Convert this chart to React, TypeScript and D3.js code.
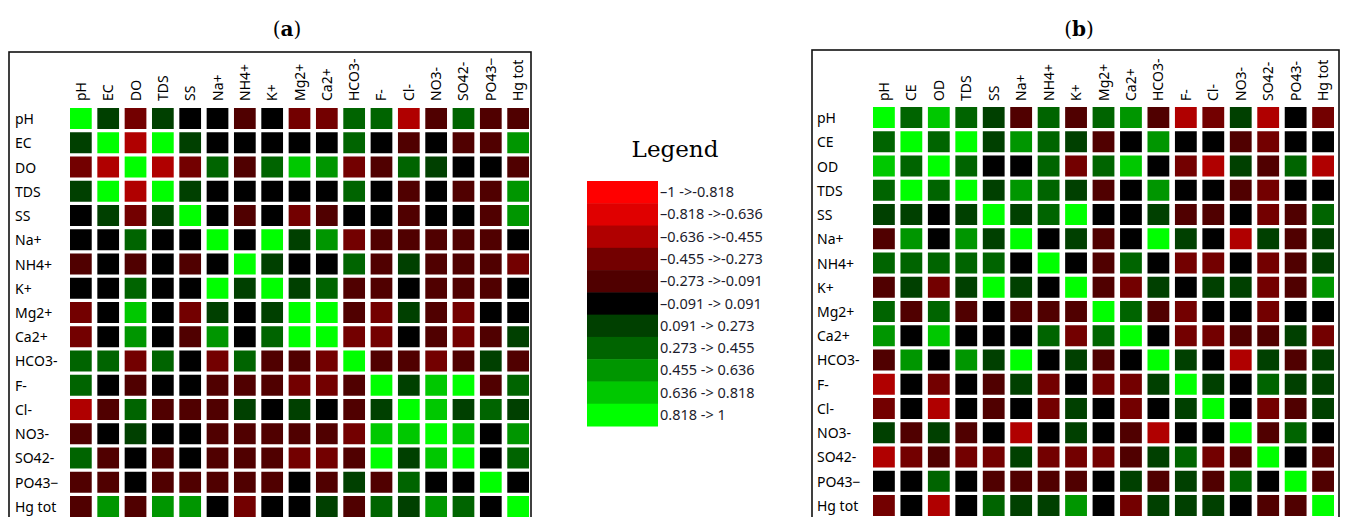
import React from "react";
import * as d3 from "d3";

// Variables, panel (a)
const labelsA = ["pH", "EC", "DO", "TDS", "SS", "Na+", "NH4+", "K+", "Mg2+", "Ca2+", "HCO3-", "F-", "Cl-", "NO3-", "SO42-", "PO43−", "Hg tot"];
const colLabelsA = ["pH", "EC", "DO", "TDS", "SS", "Na+", "NH4+", "K+", "Mg2+", "Ca2+", "HCO3-", "F-", "Cl-", "NO3-", "SO42-", "PO43−", "Hg tot"];

// Variables, panel (b)
const labelsB = ["pH", "CE", "OD", "TDS", "SS", "Na+", "NH4+", "K+", "Mg2+", "Ca2+", "HCO3-", "F-", "Cl-", "NO3-", "SO42-", "PO43−", "Hg tot"];
const colLabelsB = ["pH", "CE", "OD", "TDS", "SS", "Na+", "NH4+", "K+", "Mg2+", "Ca2+", "HCO3-", "F-", "Cl-", "NO3-", "SO42-", "PO43-", "Hg tot"];

// Correlation coefficients, panel (a)
const corrA: number[][] = [
  [1, 0.2, -0.38, 0.2, 0.04, -0.02, -0.15, 0.03, -0.35, -0.33, 0.37, 0.34, -0.52, -0.17, 0.36, -0.2, -0.19],
  [0.2, 1, -0.55, 0.98, 0.15, 0.05, -0.04, 0.06, 0.02, -0.01, 0.38, 0.05, -0.18, 0.03, -0.16, -0.21, 0.53],
  [-0.38, -0.55, 1, -0.56, -0.34, 0.39, -0.2, 0.36, 0.7, 0.58, -0.37, -0.22, 0.33, 0.17, 0.06, -0.02, -0.19],
  [0.2, 0.98, -0.56, 1, 0.16, 0.04, -0.03, 0.05, 0.01, -0.02, 0.37, 0.04, -0.17, 0.02, -0.15, -0.2, 0.52],
  [0.04, 0.15, -0.34, 0.16, 1, 0.03, -0.22, 0.07, -0.31, -0.25, 0.05, -0.06, -0.14, 0.08, -0.04, -0.19, 0.5],
  [-0.02, 0.05, 0.39, 0.04, 0.03, 1, 0.06, 0.95, 0.22, 0.56, -0.36, -0.2, -0.18, -0.21, -0.17, -0.15, 0.02],
  [-0.15, -0.04, -0.2, -0.03, -0.22, 0.06, 1, 0.19, 0.05, -0.07, 0.35, -0.24, 0.2, -0.19, -0.23, -0.16, -0.4],
  [0.03, 0.06, 0.36, 0.05, 0.07, 0.95, 0.19, 1, 0.17, 0.4, -0.2, -0.18, 0.03, -0.22, -0.19, -0.25, 0.01],
  [-0.35, 0.02, 0.7, 0.01, -0.31, 0.22, 0.05, 0.17, 1, 0.92, -0.19, -0.33, 0.21, -0.24, -0.3, 0.04, -0.06],
  [-0.33, -0.01, 0.58, -0.02, -0.25, 0.56, -0.07, 0.4, 0.92, 1, -0.34, -0.36, -0.05, -0.2, -0.32, -0.21, 0.14],
  [0.37, 0.38, -0.37, 0.37, 0.05, -0.36, 0.35, -0.2, -0.19, -0.34, 1, -0.22, -0.2, -0.35, -0.18, 0.19, -0.17],
  [0.34, 0.05, -0.22, 0.04, -0.06, -0.2, -0.24, -0.18, -0.33, -0.36, -0.22, 1, 0.16, 0.75, 0.93, -0.2, 0.38],
  [-0.52, -0.18, 0.33, -0.17, -0.14, -0.18, 0.2, 0.03, 0.21, -0.05, -0.2, 0.16, 1, 0.7, 0.2, 0.4, 0.18],
  [-0.17, 0.03, 0.17, 0.02, 0.08, -0.21, -0.19, -0.22, -0.24, -0.2, -0.35, 0.75, 0.7, 1, 0.72, 0.05, 0.5],
  [0.36, -0.16, 0.06, -0.15, -0.04, -0.17, -0.23, -0.19, -0.3, -0.32, -0.18, 0.93, 0.2, 0.72, 1, -0.03, 0.4],
  [-0.2, -0.21, -0.02, -0.2, -0.19, -0.15, -0.16, -0.25, 0.04, -0.21, 0.19, -0.2, 0.4, 0.05, -0.03, 1, 0.02],
  [-0.19, 0.53, -0.19, 0.52, 0.5, 0.02, -0.4, 0.01, -0.06, 0.14, -0.17, 0.38, 0.18, 0.5, 0.4, 0.02, 1],
];

// Correlation coefficients, panel (b)
const corrB: number[][] = [
  [1, 0.4, 0.74, 0.41, 0.22, -0.21, 0.38, -0.19, 0.35, 0.5, -0.18, -0.5, -0.37, 0.2, -0.53, -0.05, -0.34],
  [0.4, 1, 0.39, 0.99, 0.24, 0.52, 0.36, 0.2, -0.14, 0.06, 0.52, -0.03, 0.01, -0.16, -0.3, 0.04, -0.05],
  [0.74, 0.39, 1, 0.4, -0.02, 0.05, 0.33, -0.38, 0.37, 0.7, 0.04, -0.36, -0.5, 0.19, -0.23, 0.3, -0.52],
  [0.41, 0.99, 0.4, 1, 0.25, 0.53, 0.37, 0.21, -0.15, 0.05, 0.53, -0.02, 0.02, -0.17, -0.31, 0.03, -0.04],
  [0.22, 0.24, -0.02, 0.25, 1, 0.18, 0.34, 0.9, 0.07, -0.04, 0.19, -0.2, -0.23, 0.01, -0.33, -0.17, 0.38],
  [-0.21, 0.52, 0.05, 0.53, 0.18, 1, 0.03, 0.2, -0.22, 0.08, 0.97, 0.22, -0.06, -0.5, 0.16, -0.24, 0.2],
  [0.38, 0.36, 0.33, 0.37, 0.34, 0.03, 1, -0.07, -0.22, 0.35, 0.02, -0.39, -0.36, 0.05, -0.35, -0.2, 0.15],
  [-0.19, 0.2, -0.38, 0.21, 0.9, 0.2, -0.07, 1, -0.18, -0.37, 0.21, 0.04, 0.17, 0.23, -0.33, -0.22, 0.5],
  [0.35, -0.14, 0.37, -0.15, 0.07, -0.22, -0.22, -0.18, 1, 0.36, -0.2, -0.35, 0.06, -0.03, -0.38, 0.02, 0.08],
  [0.5, 0.06, 0.7, 0.05, -0.04, 0.08, 0.35, -0.37, 0.36, 1, 0.01, -0.34, -0.39, -0.21, -0.24, 0.16, -0.36],
  [-0.18, 0.52, 0.04, 0.53, 0.19, 0.97, 0.02, 0.21, -0.2, 0.01, 1, 0.23, -0.03, -0.52, 0.17, -0.2, 0.21],
  [-0.5, -0.03, -0.36, -0.02, -0.2, 0.22, -0.39, 0.04, -0.35, -0.34, 0.23, 1, 0.2, -0.06, 0.3, 0.15, 0.18],
  [-0.37, 0.01, -0.5, 0.02, -0.23, -0.06, -0.36, 0.17, 0.06, -0.39, -0.03, 0.2, 1, 0.07, -0.32, -0.19, 0.19],
  [0.2, -0.16, 0.19, -0.17, 0.01, -0.5, 0.05, 0.23, -0.03, -0.21, -0.52, -0.06, 0.07, 1, -0.18, 0.33, -0.02],
  [-0.53, -0.3, -0.23, -0.31, -0.33, 0.16, -0.35, -0.33, -0.38, -0.24, 0.17, 0.3, -0.32, -0.18, 1, 0.03, -0.25],
  [-0.05, 0.04, 0.3, 0.03, -0.17, -0.24, -0.2, -0.22, 0.02, 0.16, -0.2, 0.15, -0.19, 0.33, 0.03, 1, -0.21],
  [-0.34, -0.05, -0.52, -0.04, 0.38, 0.2, 0.15, 0.5, 0.08, -0.36, 0.21, 0.18, 0.19, -0.02, -0.25, -0.21, 1],
];

// Colour classes
const thresholds = [-0.818, -0.636, -0.455, -0.273, -0.091, 0.091, 0.273, 0.455, 0.636, 0.818];
const classColors = ["#ff0000", "#e00000", "#b00000", "#730000", "#500000", "#000000", "#004000", "#006400", "#009600", "#00c800", "#00ff00"];
const legendLabels = [
  "–1 ->-0.818",
  "–0.818 ->-0.636",
  "–0.636 ->-0.455",
  "–0.455 ->-0.273",
  "–0.273 ->-0.091",
  "–0.091 -> 0.091",
  "0.091 -> 0.273",
  "0.273 -> 0.455",
  "0.455 -> 0.636",
  "0.636 -> 0.818",
  "0.818 -> 1",
];

const color = d3.scaleThreshold<number, string>().domain(thresholds).range(classColors);

const SANS = "'Noto Sans', 'Open Sans', sans-serif";
const SERIF = "'DejaVu Serif', 'Liberation Serif', serif";

type PanelProps = {
  title: string;
  titleX: number;
  box: [number, number, number, number];
  rows: string[];
  cols: string[];
  values: number[][];
  xRange: [number, number];
  yRange: [number, number];
  labelX: number;
};

function Panel({ title, titleX, box, rows, cols, values, xRange, yRange, labelX }: PanelProps) {
  const idx = d3.range(cols.length).map(String);
  const x = d3.scaleBand().domain(idx).range(xRange).paddingInner(0.205).paddingOuter(0);
  const y = d3.scaleBand().domain(idx).range(yRange).paddingInner(0.134).paddingOuter(0);
  return (
    <g>
      <text x={titleX} y={36} textAnchor="middle" fontFamily={SERIF} fontSize={20} fill="#000">
        (<tspan fontWeight="bold">{title}</tspan>)
      </text>
      <rect x={box[0]} y={box[1]} width={box[2]} height={box[3]} fill="none" stroke="#111" strokeWidth={1.6} />
      {cols.map((c, j) => {
        const cx = (x(String(j)) as number) + x.bandwidth() / 2 + 5;
        return (
          <text key={"c" + j} transform={`translate(${cx},101) rotate(-90)`} fontFamily={SANS} fontSize={14} fill="#000">
            {c}
          </text>
        );
      })}
      {rows.map((r, i) => (
        <text key={"r" + i} x={labelX} y={(y(String(i)) as number) + y.bandwidth() / 2 + 5.5} fontFamily={SANS} fontSize={14} fill="#000">
          {r}
        </text>
      ))}
      {values.map((row, i) =>
        row.map((v, j) => (
          <rect
            key={i + "-" + j}
            x={x(String(j))}
            y={y(String(i))}
            width={x.bandwidth()}
            height={y.bandwidth()}
            fill={color(v)}
          />
        ))
      )}
    </g>
  );
}

function Legend() {
  const bins = d3.range(classColors.length).map(String);
  const y = d3.scaleBand().domain(bins).range([181, 426]);
  return (
    <g>
      <text x={675} y={157} textAnchor="middle" fontFamily={SERIF} fontSize={23} fill="#000">
        Legend
      </text>
      {bins.map((b, i) => (
        <g key={b}>
          <rect x={587} y={y(b)} width={71} height={y.bandwidth() + 0.5} fill={classColors[i]} />
          <text x={660} y={(y(b) as number) + y.bandwidth() / 2 + 5} fontFamily={SANS} fontSize={14.5} fill="#1c1c2c">
            {legendLabels[i]}
          </text>
        </g>
      ))}
    </g>
  );
}

export default function App() {
  return (
    <svg
      width={1345}
      height={517}
      viewBox="0 0 1345 517"
      style={{ position: "absolute", left: 0, top: 0, background: "#fff" }}
    >
      <rect width={1345} height={517} fill="#fff" />
      <Panel
        title="a"
        titleX={287}
        box={[9, 52, 522, 480]}
        rows={labelsA}
        cols={colLabelsA}
        values={corrA}
        xRange={[70, 529]}
        yRange={[108, 517]}
        labelX={15}
      />
      <Legend />
      <Panel
        title="b"
        titleX={1079}
        box={[812, 50, 527, 480]}
        rows={labelsB}
        cols={colLabelsB}
        values={corrB}
        xRange={[873, 1334]}
        yRange={[107, 516]}
        labelX={817}
      />
    </svg>
  );
}
